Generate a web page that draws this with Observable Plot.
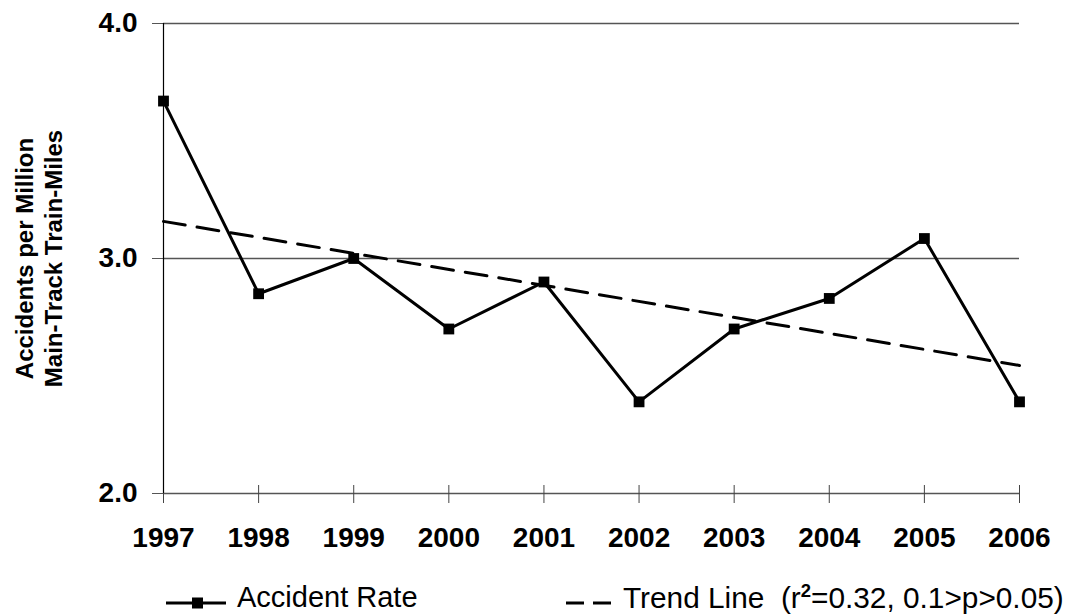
<!DOCTYPE html>
<html><head><meta charset="utf-8">
<script src="https://cdn.jsdelivr.net/npm/d3@7"></script>
<script src="https://cdn.jsdelivr.net/npm/@observablehq/plot@0.6"></script>
<style>
body{margin:0;background:#fff;font-family:"Liberation Sans",Arial,sans-serif;}
#wrap{position:relative;width:1067px;height:616px;overflow:hidden;}
#legend{position:absolute;left:0;top:560px;width:1067px;height:56px;}
#legend .t{position:absolute;font-size:29px;line-height:29px;white-space:pre;color:#000;}
#legend svg{position:absolute;}
</style></head><body><div id="wrap"><div id="chart"></div><div id="legend"></div></div>
<script>
const years = [1997, 1998, 1999, 2000, 2001, 2002, 2003, 2004, 2005, 2006];
const rates = [3.67, 2.85, 3.00, 2.70, 2.90, 2.39, 2.70, 2.83, 3.085, 2.39];
const yTicks = [2, 3, 4];
const yTitle = ["Accidents per Million", "Main-Track Train-Miles"];
const seriesLabel = "Accident Rate";
const trendLabel = "Trend Line";
const trendStats = { r2: "0.32", p: "0.1>p>0.05" };

const data = years.map((year, i) => ({ year, rate: rates[i] }));
const font = '"Liberation Sans", Arial, sans-serif';

const chart = Plot.plot({
  width: 1067, height: 560,
  marginLeft: 163, marginRight: 48, marginTop: 23, marginBottom: 67,
  style: `font-family:${font};font-weight:bold;background:white;overflow:visible;`,
  x: { domain: [1997, 2006], ticks: years, tickFormat: "d" },
  y: { domain: [2, 4], ticks: yTicks, tickFormat: d3.format(".1f") },
  marks: [
    Plot.ruleY(yTicks, { stroke: "#555", strokeWidth: 1.3 }),
    Plot.axisX({ ticks: years, tickSize: 18, dy: -8, tickFormat: () => "", stroke: "#444", label: null }),
    Plot.axisX({ ticks: years, tickFormat: "d", tickSize: 0, tickPadding: 34, fontSize: 28, fill: "#000", label: null }),
    Plot.axisY({ ticks: yTicks, tickFormat: d3.format(".1f"), tickSize: 11, tickPadding: 15, fontSize: 28, stroke: "#555", fill: "#000", label: null }),
    Plot.ruleX([1997], { stroke: "#000", strokeWidth: 1.2 }),
    Plot.linearRegressionY(data, { x: "year", y: "rate", ci: 0, stroke: "#000", strokeWidth: 3, strokeDasharray: "22,12" }),
    Plot.line(data, { x: "year", y: "rate", stroke: "#000", strokeWidth: 3 }),
    Plot.dot(data, { x: "year", y: "rate", symbol: "square", r: 6.1, fill: "#000", stroke: null }),
    Plot.text([yTitle.join("\n")], { frameAnchor: "left", dx: -125, rotate: -90, textAnchor: "middle", lineAnchor: "middle", fontSize: 24, fontWeight: "bold", lineHeight: 1.2, fill: "#000" })
  ]
});
document.getElementById("chart").appendChild(chart);

// legend
const lg = document.getElementById("legend");
lg.innerHTML = `
<svg style="left:166px;top:36px" width="60" height="14"><line x1="0" y1="7" x2="60" y2="7" stroke="#000" stroke-width="3"/><rect x="26" y="1.5" width="11" height="11" fill="#000"/></svg>
<div class="t" style="left:237px;top:23px">${seriesLabel}</div>
<svg style="left:566px;top:36px" width="46" height="14"><line x1="0" y1="7" x2="46" y2="7" stroke="#000" stroke-width="3" stroke-dasharray="18,9"/></svg>
<div class="t" style="left:623px;top:23px;font-size:29.8px">${trendLabel}  (r<sup style="font-size:0.62em;font-weight:bold;line-height:0">2</sup>=${trendStats.r2}, ${trendStats.p})</div>
`;
</script></body></html>
